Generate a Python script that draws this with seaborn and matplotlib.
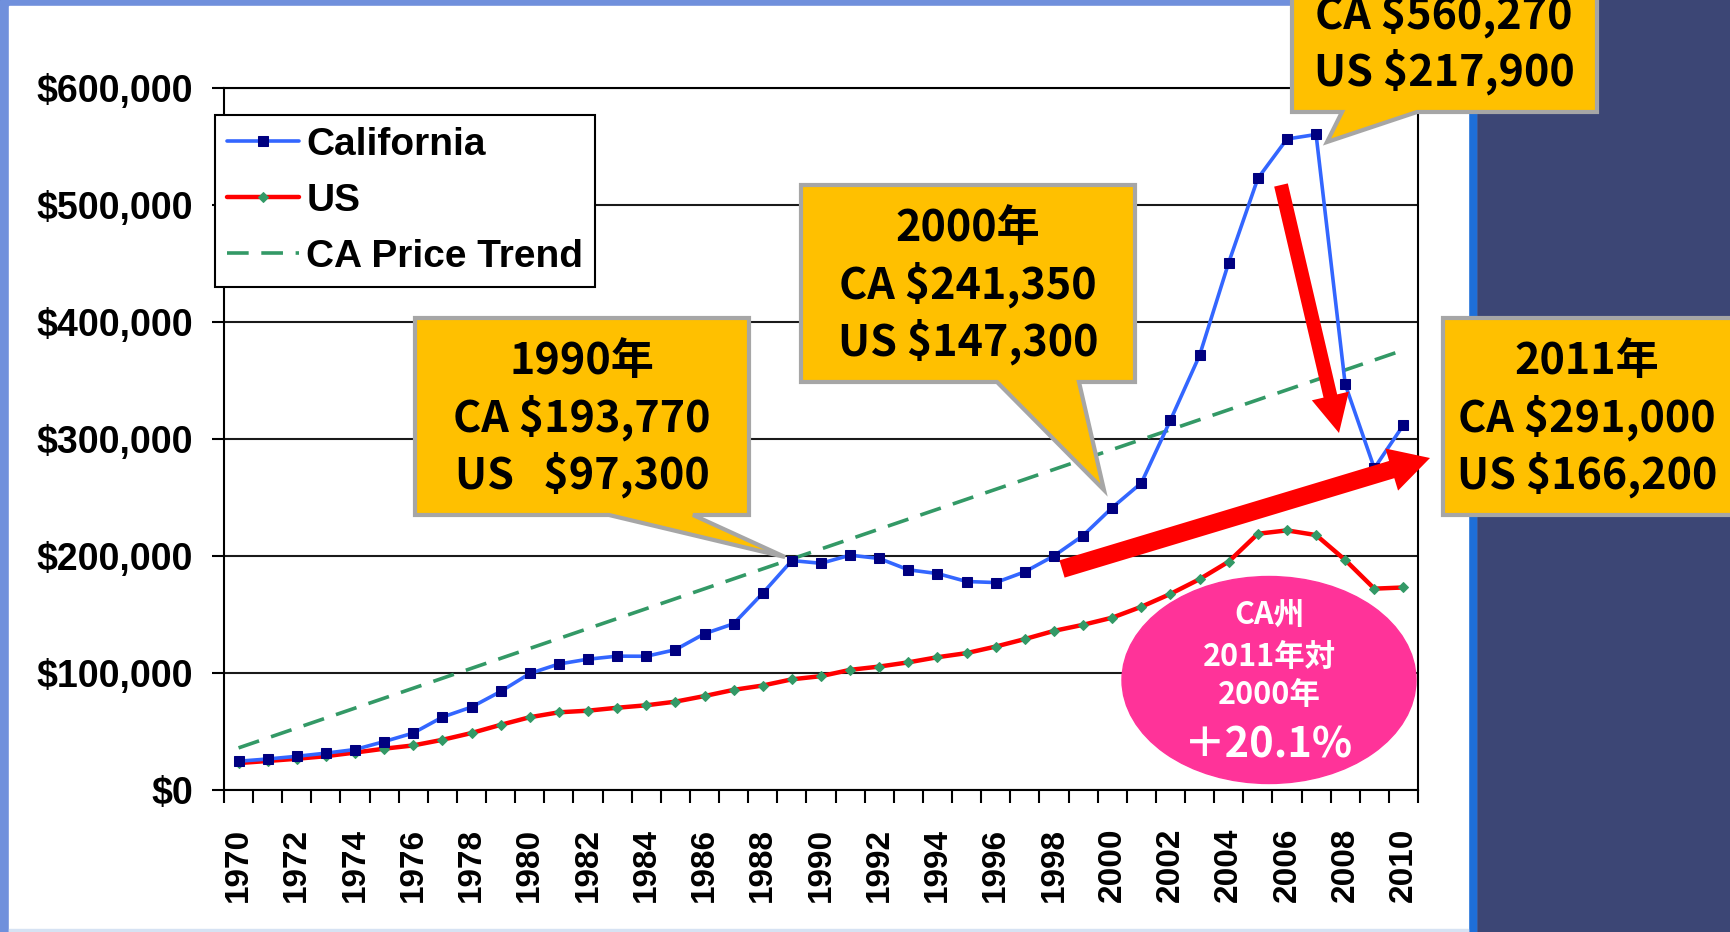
import matplotlib
matplotlib.use("Agg")
import matplotlib.pyplot as plt
from matplotlib.patches import Polygon, Ellipse, Rectangle, FancyArrow
import seaborn as sns
import pandas as pd

# median home prices
years = list(range(1970, 2011))
california = [24600, 26500, 28800, 31500, 34600, 41400, 48700, 62300, 70900, 84200,
              99600, 107700, 111800, 114400, 114300, 119900, 133600, 142100, 168200, 196100,
              193770, 200700, 197900, 188200, 185000, 178200, 177300, 186500, 200100, 217500,
              241350, 262400, 316100, 371500, 450800, 522700, 556400, 560270, 346800, 275000,
              312000]
us = [23000, 24800, 26700, 28900, 32000, 35300, 38100, 42900, 48700, 55700,
      62200, 66400, 67800, 70300, 72400, 75500, 80300, 85600, 89300, 94600,
      97300, 102700, 105500, 109100, 113500, 117000, 122600, 129000, 136000, 141200,
      147300, 156600, 167600, 180200, 195200, 219000, 221900, 217900, 196600, 172100,
      173100]
trend_years = [1970, 2010]
trend_values = [36000, 376000]
y_ticks = [0, 100000, 200000, 300000, 400000, 500000, 600000]

box_1990 = ["1990年", "CA $193,770", "US   $97,300"]
box_2000 = ["2000年", "CA $241,350", "US $147,300"]
box_peak = ["CA $560,270", "US $217,900"]
box_2011 = ["2011年", "CA $291,000", "US $166,200"]
bubble = ["CA州", "2011年対", "2000年", "＋20.1%"]

W, H = 1731, 932

sns.set_theme(style="white")
plt.rcParams['font.family'] = ['Liberation Sans', 'Noto Sans CJK JP']
plt.rcParams['font.weight'] = 'bold'

fig = plt.figure(figsize=(W / 100, H / 100), dpi=100)

# background slide
bg = fig.add_axes([0, 0, 1, 1], zorder=0)
bg.set_xlim(0, W)
bg.set_ylim(H, 0)
bg.axis('off')
bg.add_patch(Rectangle((0, 0), W, H, color='#3c4675'))
bg.add_patch(Rectangle((0, 0), 1476, H, color='#7090dc'))
bg.add_patch(Rectangle((1468, 0), 8, H, color='#1e6fd9'))
bg.add_patch(Rectangle((9, 6), 1459, H, color='white'))
bg.add_patch(Rectangle((9, H - 3), 1459, 3, color='#d6e2f3'))

# chart
ax = fig.add_axes([224 / W, (H - 790) / H, (1418 - 224) / W, (790 - 88) / H], zorder=1)
ax.set_facecolor('white')
df = pd.DataFrame({'year': years, 'California': california, 'US': us})

sns.lineplot(data=df, x='year', y='California', ax=ax, color='#3366ff', linewidth=2.6,
             marker='s', markersize=6.5, markerfacecolor='#000080', markeredgecolor='#000080',
             label='California', zorder=4)
sns.lineplot(data=df, x='year', y='US', ax=ax, color='#ff0000', linewidth=3.2,
             marker='D', markersize=5, markerfacecolor='#339966', markeredgecolor='#339966',
             label='US', zorder=3)
sns.lineplot(x=trend_years, y=trend_values, ax=ax, color='#339966', linewidth=2.6,
             linestyle=(0, (6, 3.5)), label='CA Price Trend', zorder=2)

ax.set_xlim(1969.5, 2010.5)
ax.set_ylim(0, 600000)
ax.set_xlabel('')
ax.set_ylabel('')
ax.set_yticks(y_ticks)
ax.set_yticklabels([f"${v:,.0f}" for v in y_ticks])
ax.set_xticks(years[::2])
ax.set_xticklabels([str(y) for y in years[::2]])
ax.set_xticks([y - 0.5 for y in years] + [years[-1] + 0.5], minor=True)
ax.tick_params(axis='x', which='major', length=0, pad=27, labelsize=24, rotation=90)
ax.tick_params(axis='x', which='minor', length=9.5, width=1.5, color='black', direction='out', bottom=True)
ax.tick_params(axis='y', which='major', length=8.5, width=1.5, color='black', direction='out',
               left=True, pad=14, labelsize=27)
for lbl in ax.get_xticklabels() + ax.get_yticklabels():
    lbl.set_fontweight('bold')
    lbl.set_color('black')
ax.yaxis.grid(True, color='#1a1a1a', linewidth=1.5)
ax.set_axisbelow(True)
for sp in ax.spines.values():
    sp.set_color('black')
    sp.set_linewidth(1.5)

leg = ax.legend(loc='upper left', bbox_to_anchor=(215 / W, 1 - 115 / H), bbox_transform=fig.transFigure,
                borderaxespad=0, prop={'size': 28, 'weight': 'bold'}, handlelength=1.85,
                handletextpad=0.2, borderpad=0.3, labelspacing=0.52, fancybox=False,
                framealpha=1, edgecolor='black')
leg.get_frame().set_linewidth(1.5)
for t in leg.get_texts():
    t.set_color('black')

# callouts, arrows and bubble drawn in pixel space
fg = fig.add_axes([0, 0, 1, 1], zorder=3)
fg.set_xlim(0, W)
fg.set_ylim(H, 0)
fg.axis('off')
fg.patch.set_alpha(0)


def callout(x0, y0, x1, y1, tail=None):
    pts = [(x0, y0), (x1, y0), (x1, y1)]
    if tail:
        b0, b1, tip = tail
        pts += [(b1, y1), tip, (b0, y1)]
    pts += [(x0, y1)]
    fg.add_patch(Polygon(pts, closed=True, facecolor='#ffc000', edgecolor='#a6a6a6',
                         linewidth=3, joinstyle='miter'))


def lines(cx, ys, texts, size, color='black'):
    for yy, t in zip(ys, texts):
        fg.text(cx, yy, t, ha='center', va='center', fontsize=size, color=color,
                fontweight='bold', family=['Noto Sans CJK JP', 'DejaVu Sans'])


callout(415, 318, 749, 515, (609, 693, (785, 557)))
lines(582, [361, 418, 475], box_1990, 31)
callout(801, 185, 1135, 382, (997, 1079, (1104, 490)))
lines(968, [228, 285, 342], box_2000, 31)
callout(1292, -30, 1597, 112, (1342, 1417, (1327, 142)))
lines(1444, [15, 72], box_peak, 31)
callout(1443, 318, 1760, 515)
lines(1587, [361, 418, 475], box_2011, 31)

fg.add_patch(FancyArrow(1281, 185, 58, 248, width=14, head_width=38, head_length=38,
                        length_includes_head=True, color='#ff0000', linewidth=0))
fg.add_patch(FancyArrow(1062, 569, 368, -111, width=18, head_width=44, head_length=40,
                        length_includes_head=True, color='#ff0000', linewidth=0))

fg.add_patch(Ellipse((1269, 680), 294, 207, color='#ff3399'))
lines(1269, [615, 657, 695], bubble[:3], 22, 'white')
lines(1269, [745], bubble[3:], 30, 'white')

fig.savefig('out.png', dpi=100)
